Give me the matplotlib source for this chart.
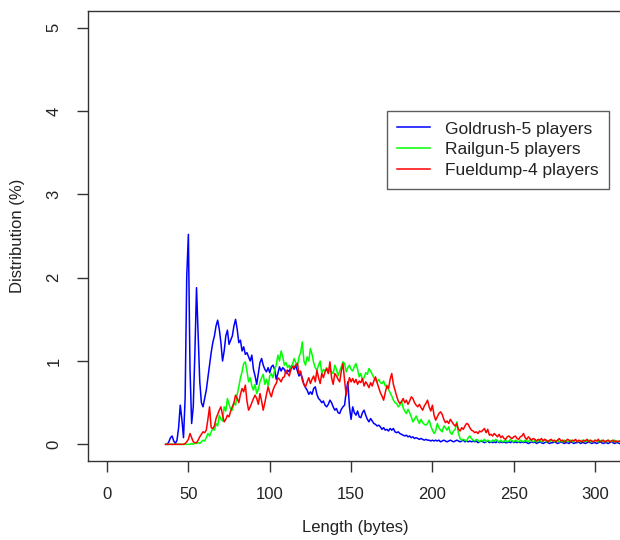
import numpy as np
import matplotlib
matplotlib.use("Agg")
import matplotlib.pyplot as plt

plt.rcParams['font.family'] = ['Liberation Sans', 'DejaVu Sans']

# packet length in bytes (one value per byte)
lengths = np.arange(36, 316)

goldrush = [
    0, 0, 0.03, 0.08, 0.1, 0.04, 0.01, 0.05, 0.2, 0.47,
    0.3, 0.08, 0.55, 2.02, 2.52, 0.9, 0.25, 0.45, 1.1, 1.88,
    1.3, 0.75, 0.5, 0.45, 0.55, 0.65, 0.8, 0.95, 1.1, 1.22,
    1.3, 1.42, 1.49, 1.38, 1.22, 1.0, 1.12, 1.3, 1.37, 1.2,
    1.25, 1.3, 1.42, 1.5, 1.38, 1.22, 1.25, 1.12, 1.17, 1.08,
    1.1, 1.05, 1.0, 1.07, 0.9, 0.82, 0.72, 0.85, 0.98, 1.03,
    0.95, 0.9, 0.87, 0.92, 0.86, 0.93, 0.95, 0.9, 0.78, 0.85,
    0.93, 0.88, 0.92, 0.9, 0.85, 0.89, 0.87, 0.93, 0.95, 0.9,
    0.95, 0.88, 0.82, 0.85, 0.8, 0.72, 0.68, 0.65, 0.6, 0.63,
    0.6, 0.67, 0.69, 0.6, 0.55, 0.53, 0.5, 0.52, 0.47, 0.45,
    0.48, 0.53, 0.5, 0.45, 0.41, 0.43, 0.38, 0.37, 0.42, 0.45,
    0.47, 0.63, 0.75, 0.45, 0.3, 0.45, 0.38, 0.35, 0.4, 0.33,
    0.32, 0.38, 0.41, 0.35, 0.3, 0.27, 0.31, 0.28, 0.25, 0.24,
    0.22, 0.23, 0.21, 0.18, 0.2, 0.17, 0.18, 0.16, 0.19, 0.17,
    0.19, 0.15, 0.14, 0.15, 0.13, 0.12, 0.11, 0.1, 0.11, 0.09,
    0.1, 0.08, 0.09, 0.07, 0.08, 0.07, 0.06, 0.07, 0.06, 0.05,
    0.06, 0.05, 0.05, 0.04, 0.05, 0.04, 0.05, 0.04, 0.05, 0.03,
    0.04, 0.05, 0.04, 0.03, 0.04, 0.05, 0.04, 0.03, 0.04, 0.05,
    0.04, 0.03, 0.04, 0.05, 0.03, 0.04, 0.03, 0.04, 0.03, 0.04,
    0.03, 0.04, 0.02, 0.03, 0.04, 0.03, 0.02, 0.03, 0.04, 0.02,
    0.03, 0.02, 0.03, 0.02, 0.04, 0.02, 0.03, 0.02, 0.03, 0.02,
    0.02, 0.03, 0.02, 0.04, 0.02, 0.03, 0.02, 0.03, 0.02, 0.03,
    0.02, 0.03, 0.02, 0.01, 0.02, 0.03, 0.02, 0.03, 0.01, 0.02,
    0.03, 0.02, 0.01, 0.02, 0.03, 0.02, 0.01, 0.02, 0.02, 0.03,
    0.02, 0.01, 0.02, 0.03, 0.02, 0.01, 0.02, 0.02, 0.01, 0.03,
    0.02, 0.01, 0.02, 0.02, 0.03, 0.01, 0.02, 0.02, 0.01, 0.02,
    0.03, 0.02, 0.01, 0.02, 0.02, 0.01, 0.02, 0.03, 0.02, 0.01,
    0.02, 0.02, 0.01, 0.02, 0.03, 0.02, 0.01, 0.02, 0.02, 0.01,
]

railgun = [
    0, 0, 0, 0, 0, 0, 0, 0, 0, 0,
    0, 0, 0, 0, 0, 0, 0.01, 0, 0.02, 0.01,
    0.02, 0.01, 0.03, 0.05, 0.04, 0.08, 0.13, 0.1, 0.15, 0.19,
    0.17, 0.25, 0.22, 0.35, 0.3, 0.28, 0.45, 0.4, 0.55, 0.48,
    0.42, 0.41, 0.5, 0.47, 0.6, 0.69, 0.8, 0.87, 0.97, 0.99,
    0.88, 0.75, 0.8, 0.7, 0.65, 0.72, 0.61, 0.66, 0.75, 0.8,
    0.84, 0.72, 0.78, 0.7, 0.82, 0.85, 0.8, 0.89, 0.95, 1.07,
    1.0, 1.12, 1.05, 0.95, 0.98, 0.92, 0.95, 0.89, 0.96, 1.03,
    0.98, 0.94, 1.05, 1.1, 1.23, 1.0, 0.95, 1.05, 1.0, 1.15,
    1.08, 0.98, 0.92, 0.89, 0.95, 1.0, 0.85, 0.9, 0.88, 0.92,
    0.86, 0.9, 0.87, 0.85, 0.95, 0.9, 0.82, 0.88, 0.93, 0.99,
    0.97, 0.87, 0.92, 0.95, 0.9, 0.88, 0.93, 0.97, 0.9, 0.81,
    0.85, 0.77, 0.8, 0.86, 0.84, 0.91, 0.88, 0.84, 0.8, 0.77,
    0.75, 0.78, 0.74, 0.73, 0.76, 0.7, 0.71, 0.66, 0.62, 0.58,
    0.53, 0.5, 0.49, 0.45, 0.47, 0.52, 0.44, 0.4, 0.37, 0.42,
    0.38, 0.33, 0.27, 0.3, 0.34, 0.29, 0.25, 0.3, 0.26, 0.24,
    0.23, 0.25, 0.29, 0.22, 0.17, 0.13, 0.16, 0.25, 0.2, 0.17,
    0.15, 0.22, 0.2, 0.17, 0.21, 0.14, 0.12, 0.16, 0.18, 0.27,
    0.13, 0.07, 0.05, 0.06, 0.05, 0.04, 0.08, 0.1, 0.07, 0.05,
    0.04, 0.06, 0.05, 0.03, 0.05, 0.04, 0.06, 0.03, 0.05, 0.04,
    0.03, 0.05, 0.04, 0.06, 0.04, 0.03, 0.05, 0.03, 0.04, 0.05,
    0.03, 0.04, 0.06, 0.04, 0.03, 0.05, 0.04, 0.03, 0.05, 0.04,
    0.03, 0.05, 0.04, 0.03, 0.06, 0.04, 0.03, 0.05, 0.03, 0.04,
    0.05, 0.03, 0.04, 0.06, 0.03, 0.04, 0.03, 0.05, 0.04, 0.03,
    0.04, 0.05, 0.03, 0.04, 0.03, 0.05, 0.04, 0.03, 0.04, 0.05,
    0.03, 0.04, 0.05, 0.03, 0.04, 0.03, 0.05, 0.04, 0.03, 0.04,
    0.05, 0.03, 0.04, 0.03, 0.05, 0.04, 0.03, 0.04, 0.05, 0.03,
    0.04, 0.03, 0.05, 0.04, 0.03, 0.04, 0.05, 0.03, 0.04, 0.03,
]

fueldump = [
    0, 0, 0, 0, 0, 0, 0, 0, 0, 0,
    0, 0, 0.01, 0.03, 0.06, 0.13, 0.08, 0.03, 0.02, 0.02,
    0.05, 0.09, 0.12, 0.15, 0.14, 0.17, 0.3, 0.45, 0.2, 0.19,
    0.22, 0.31, 0.36, 0.41, 0.45, 0.35, 0.27, 0.3, 0.35, 0.33,
    0.4, 0.45, 0.5, 0.59, 0.55, 0.5, 0.6, 0.67, 0.63, 0.71,
    0.52, 0.41, 0.45, 0.5, 0.55, 0.59, 0.55, 0.48, 0.61, 0.52,
    0.41, 0.5, 0.6, 0.69, 0.62, 0.57, 0.65, 0.7, 0.73, 0.8,
    0.78, 0.75, 0.8, 0.81, 0.89, 0.85, 0.82, 0.9, 0.93, 0.92,
    0.95, 0.97, 0.85, 0.88, 0.77, 0.72, 0.69, 0.75, 0.8, 0.73,
    0.78, 0.82, 0.75, 0.89, 0.8, 0.73, 0.85, 0.8, 0.87, 0.91,
    0.85, 0.99, 0.8, 0.72, 0.85, 0.82, 0.78, 0.75, 0.88, 0.97,
    0.77, 0.59, 0.7, 0.8, 0.75, 0.79, 0.74, 0.78, 0.72, 0.76,
    0.74, 0.79, 0.7, 0.75, 0.72, 0.68, 0.74, 0.7, 0.76, 0.81,
    0.74, 0.68, 0.62, 0.58, 0.53, 0.62, 0.7, 0.67, 0.78, 0.85,
    0.72, 0.65, 0.58, 0.52, 0.49, 0.51, 0.55, 0.5, 0.53, 0.48,
    0.52, 0.57, 0.55, 0.5, 0.47, 0.45, 0.48, 0.44, 0.41, 0.46,
    0.49, 0.53, 0.45, 0.4, 0.47, 0.35, 0.29, 0.33, 0.37, 0.39,
    0.36, 0.3, 0.26, 0.28, 0.25, 0.3, 0.27, 0.24, 0.22, 0.25,
    0.18, 0.16, 0.2, 0.18, 0.22, 0.25, 0.24, 0.2, 0.17, 0.16,
    0.14, 0.15, 0.13, 0.16, 0.15, 0.17, 0.19, 0.14, 0.18, 0.11,
    0.12, 0.1, 0.13, 0.11, 0.09, 0.12, 0.08, 0.1, 0.07, 0.06,
    0.09, 0.1, 0.08, 0.07, 0.09, 0.1, 0.07, 0.06, 0.09, 0.1,
    0.13, 0.08, 0.06, 0.09, 0.07, 0.05, 0.07, 0.06, 0.04, 0.06,
    0.05, 0.07, 0.04, 0.06, 0.05, 0.03, 0.05, 0.06, 0.04, 0.05,
    0.03, 0.05, 0.07, 0.04, 0.05, 0.03, 0.04, 0.06, 0.05, 0.03,
    0.05, 0.04, 0.06, 0.03, 0.05, 0.04, 0.03, 0.05, 0.04, 0.06,
    0.03, 0.05, 0.04, 0.03, 0.05, 0.04, 0.06, 0.03, 0.04, 0.05,
    0.03, 0.04, 0.05, 0.03, 0.04, 0.05, 0.03, 0.04, 0.03, 0.04,
]

series_names = ["Goldrush-5 players", "Railgun-5 players", "Fueldump-4 players"]
series_colors = ["#0000FF", "#00FF00", "#FF0000"]
x_ticks = [0, 50, 100, 150, 200, 250, 300]
y_ticks = [0, 1, 2, 3, 4, 5]

W, H = 620, 540
fig = plt.figure(figsize=(W / 100, H / 100), dpi=100)
ax = fig.add_axes([88 / W, (H - 461) / H, (W - 88) / W, 450 / H])

for vals, name, col in zip([goldrush, railgun, fueldump], series_names, series_colors):
    ax.plot(lengths, vals, color=col, lw=1.1, label=name)

ax.set_xlim(-11.7, 315.3)
ax.set_ylim(-0.2, 5.2)
ax.set_xticks(x_ticks)
ax.set_yticks(y_ticks)
ax.spines['right'].set_visible(False)
for s in ['left', 'top', 'bottom']:
    ax.spines[s].set_color('#333333')
    ax.spines[s].set_linewidth(1.0)

ax.tick_params(axis='both', direction='out', length=8, width=1.0, color='#333333',
               labelsize=12, pad=11, labelcolor='#222222')
ax.tick_params(axis='y', labelrotation=90)
for lab in ax.get_yticklabels():
    lab.set_va('center')

ax.set_xlabel("Length (bytes)", fontsize=12, color='#222222')
ax.set_ylabel("Distribution (%)", fontsize=12, color='#222222')
ax.xaxis.set_label_coords((355 - 88) / 532, (461 - 520) / 450)
ax.yaxis.set_label_coords((25 - 88) / 532, 0.5)

leg = ax.legend(loc='upper left', bbox_to_anchor=((387 - 88) / 532, (461 - 111) / 450),
                fontsize=12.5, frameon=True, fancybox=False, borderaxespad=0,
                handlelength=1.85, handletextpad=0.9, labelspacing=0.33, borderpad=0.6)
leg.get_frame().set_edgecolor('#333333')
leg.get_frame().set_linewidth(1.0)
for t in leg.get_texts():
    t.set_color('#222222')

fig.savefig("out.png", dpi=100)
